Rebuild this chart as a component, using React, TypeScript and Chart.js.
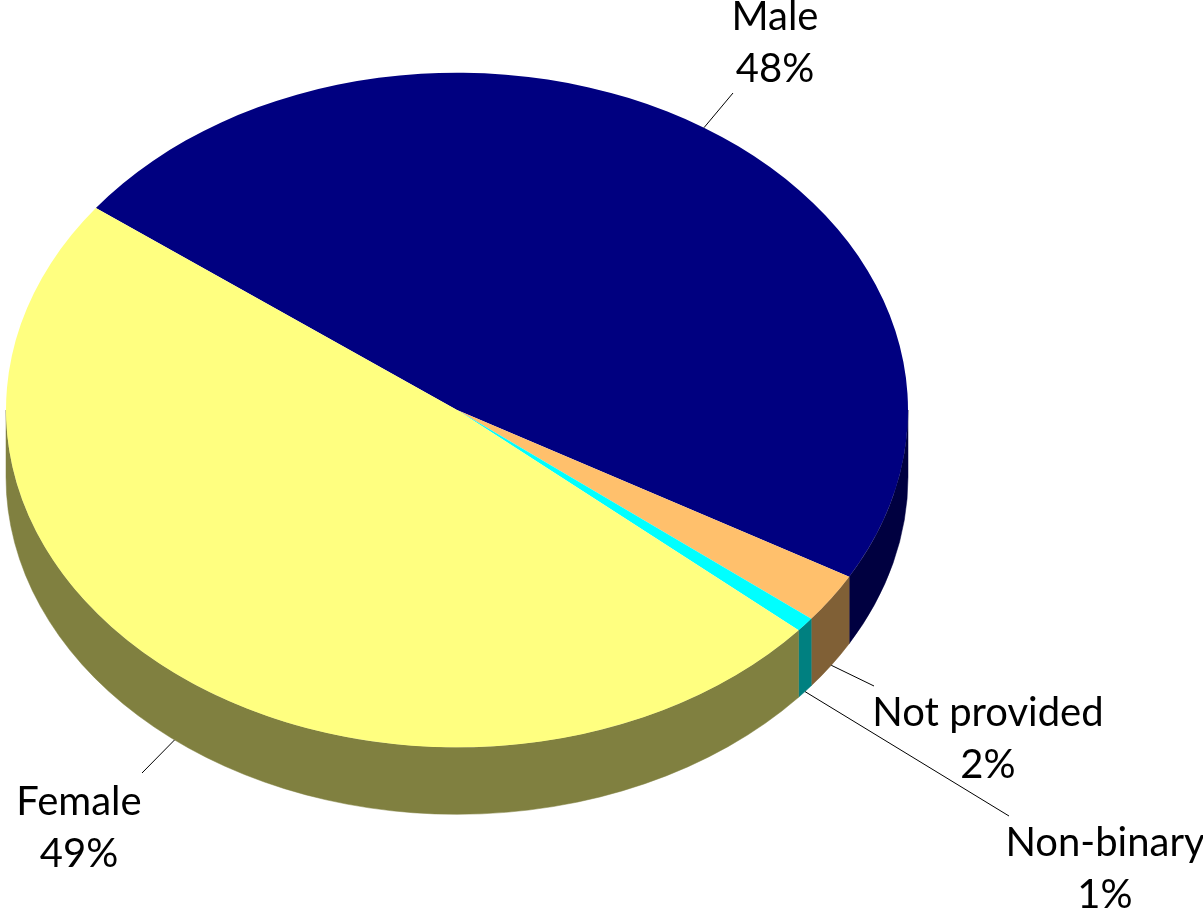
import React, { useEffect, useRef } from "react";
import { Chart, registerables } from "chart.js";

Chart.register(...registerables);

const categories = ["Male", "Not provided", "Non-binary", "Female"];
const shares = [48.0, 2.4, 0.7, 48.9];
const topColors = ["#000080", "#FFC06C", "#00FFFF", "#FFFF80"];
const sideColors = ["#000040", "#806036", "#008080", "#808040"];

// layout (styles / positions, not data)
const W = 1203;
const H = 914;
const ELLIPSE_CY = 410;
const TILT = 0.748; // vertical squash of the pie
const DEPTH = 67;
const LABEL_FONT = "40px Lato";
const LINE_GAP = 52;
const labelCenters = [
  { x: 775, y: 17 },
  { x: 988, y: 713 },
  { x: 1105, y: 843 },
  { x: 79, y: 802 },
];
const leaderEnds = [
  { x: 733, y: 93 },
  { x: 874, y: 686 },
  { x: 1009, y: 816 },
  { x: 142, y: 773 },
];

const pie3d = {
  id: "pie3d",
  beforeDatasetsDraw(chart: any) {
    const ctx = chart.ctx;
    const meta = chart.getDatasetMeta(0);
    const area = chart.chartArea;
    const cyCircle = (area.top + area.bottom) / 2;
    meta.data.forEach((arc: any, i: number) => {
      const p = arc.getProps(["x", "startAngle", "endAngle", "outerRadius"], true);
      const rx = p.outerRadius;
      const ry = p.outerRadius * TILT;
      for (let n = -1; n <= 2; n++) {
        const lo = Math.max(p.startAngle, 2 * Math.PI * n);
        const hi = Math.min(p.endAngle, 2 * Math.PI * n + Math.PI);
        if (hi > lo) {
          ctx.save();
          ctx.beginPath();
          ctx.ellipse(p.x, ELLIPSE_CY, rx, ry, 0, lo, hi, false);
          ctx.ellipse(p.x, ELLIPSE_CY + DEPTH, rx, ry, 0, hi, lo, true);
          ctx.closePath();
          ctx.fillStyle = sideColors[i];
          ctx.strokeStyle = sideColors[i];
          ctx.lineWidth = 0.5;
          ctx.fill();
          ctx.stroke();
          ctx.restore();
        }
      }
    });
    ctx.save();
    ctx.translate(0, ELLIPSE_CY);
    ctx.scale(1, TILT);
    ctx.translate(0, -cyCircle);
  },
  afterDatasetsDraw(chart: any) {
    chart.ctx.restore();
  },
  afterDraw(chart: any) {
    const ctx = chart.ctx;
    const meta = chart.getDatasetMeta(0);
    ctx.save();
    ctx.strokeStyle = "#000000";
    ctx.lineWidth = 1;
    meta.data.forEach((arc: any, i: number) => {
      const p = arc.getProps(["x", "startAngle", "endAngle", "outerRadius"], true);
      const a = (p.startAngle + p.endAngle) / 2;
      const rx = p.outerRadius;
      const ry = p.outerRadius * TILT;
      const s = Math.sin(a);
      const px = p.x + rx * Math.cos(a);
      const py = ELLIPSE_CY + ry * s + (s > 0 ? DEPTH : 0);
      ctx.beginPath();
      ctx.moveTo(px, py);
      ctx.lineTo(leaderEnds[i].x, leaderEnds[i].y);
      ctx.stroke();
    });
    ctx.fillStyle = "#000000";
    ctx.font = LABEL_FONT;
    ctx.textAlign = "center";
    ctx.textBaseline = "middle";
    categories.forEach((name, i) => {
      const c = labelCenters[i];
      ctx.fillText(name, c.x, c.y);
      ctx.fillText(`${Math.round(shares[i])}%`, c.x, c.y + LINE_GAP);
    });
    ctx.restore();
  },
};

export default function App() {
  const ref = useRef<HTMLCanvasElement>(null);
  useEffect(() => {
    if (!ref.current) return;
    const chart = new Chart(ref.current, {
      type: "pie",
      data: {
        labels: categories,
        datasets: [
          {
            data: shares,
            backgroundColor: topColors,
            borderWidth: 0,
            clip: false as any,
          },
        ],
      },
      options: {
        responsive: false,
        animation: false,
        devicePixelRatio: 1,
        rotation: 306.8,
        layout: { padding: { left: 6, right: W - 908, top: 0, bottom: 0 } },
        plugins: { legend: { display: false }, tooltip: { enabled: false } },
        events: [],
      },
      plugins: [pie3d],
    });
    return () => chart.destroy();
  }, []);
  return (
    <div style={{ position: "fixed", left: 0, top: 0, width: W, height: H, background: "#fff" }}>
      <canvas ref={ref} width={W} height={H} style={{ width: W, height: H, display: "block" }} />
    </div>
  );
}
